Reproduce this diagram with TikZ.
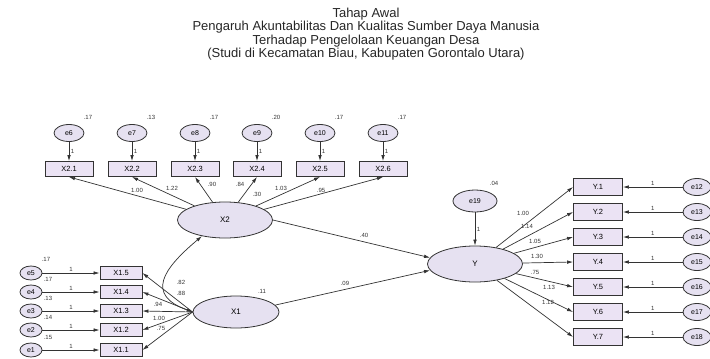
\documentclass[tikz,border=0pt]{standalone}
\usepackage{fontspec}
\setmainfont{Liberation Sans}
\usepackage{tikz}
\usetikzlibrary{arrows.meta, positioning, shapes.geometric}
\definecolor{latFill}{HTML}{E6E1F1}
\definecolor{obsFill}{HTML}{EBE3F4}
\definecolor{lineGray}{HTML}{333333}
\tikzset{
    box_obs/.style={
        rectangle, draw=lineGray, line width=0.9pt, fill=obsFill,
        minimum width=48pt, minimum height=15pt, inner sep=0pt,
        font=\fontsize{7.5}{8}\selectfont
    },
    box_obs_sm/.style={
        box_obs, minimum width=42pt, minimum height=13pt
    },
    ell_lat/.style={
        ellipse, draw=lineGray, line width=0.8pt, fill=latFill,
        minimum width=95pt, minimum height=36pt, inner sep=0pt,
        font=\fontsize{8}{9}\selectfont
    },
    ell_err/.style={
        ellipse, draw=lineGray, line width=0.8pt, fill=latFill,
        minimum width=30pt, minimum height=17pt, inner sep=0pt,
        font=\fontsize{7}{8}\selectfont
    },
    path_arrow/.style={
        -{Latex[length=6pt, width=3.6pt]}, draw=lineGray, line width=0.7pt
    },
    cov_arrow/.style={
        {Latex[length=6pt, width=3.6pt]}-{Latex[length=6pt, width=3.6pt]},
        draw=lineGray, line width=0.7pt
    },
    lbl/.style={
        font=\fontsize{6}{7}\selectfont, text=black!80, inner sep=0.5pt
    },
    ttl/.style={
        align=center, font=\fontsize{13}{13.5}\selectfont, text=black!85
    }
}

\begin{document}
\begin{tikzpicture}[x=1pt, y=-1pt, >=Latex]

    \useasboundingbox (0,0) rectangle (710,359);

    % Title block
    \node[ttl] (title) at (366,34) {
        Tahap Awal\\
        Pengaruh Akuntabilitas Dan Kualitas Sumber Daya Manusia\\
        Terhadap Pengelolaan Keuangan Desa\\
        (Studi di Kecamatan Biau, Kabupaten Gorontalo Utara)
    };

    % Latent variables
    \node[ell_lat] (X2) at (225,220) {X2};
    \node[ell_lat, minimum width=86pt, minimum height=32pt] (X1) at (236,312) {X1};
    \node[ell_lat] (Y) at (475,264) {Y};
    \node[ell_err, minimum width=44pt, minimum height=22pt] (e19) at (475,201) {e19};

    % Indicators of X2 (top row) with their errors
    \node[box_obs] (X21) at (69,169) {X2.1};
    \node[box_obs] (X22) at (132,169) {X2.2};
    \node[box_obs] (X23) at (195,169) {X2.3};
    \node[box_obs] (X24) at (257,169) {X2.4};
    \node[box_obs] (X25) at (320,169) {X2.5};
    \node[box_obs] (X26) at (383,169) {X2.6};
    \node[ell_err] (e6) at (69,133) {e6};
    \node[ell_err] (e7) at (132,133) {e7};
    \node[ell_err] (e8) at (195,133) {e8};
    \node[ell_err] (e9) at (257,133) {e9};
    \node[ell_err] (e10) at (320,133) {e10};
    \node[ell_err] (e11) at (383,133) {e11};

    % Indicators of X1 (left column) with their errors
    \node[box_obs_sm] (X15) at (121,273) {X1.5};
    \node[box_obs_sm] (X14) at (121,292) {X1.4};
    \node[box_obs_sm] (X13) at (121,311) {X1.3};
    \node[box_obs_sm] (X12) at (121,330) {X1.2};
    \node[box_obs_sm] (X11) at (121,350) {X1.1};
    \node[ell_err, minimum width=22pt, minimum height=14pt] (e5) at (31,273) {e5};
    \node[ell_err, minimum width=22pt, minimum height=14pt] (e4) at (31,292) {e4};
    \node[ell_err, minimum width=22pt, minimum height=14pt] (e3) at (31,311) {e3};
    \node[ell_err, minimum width=22pt, minimum height=14pt] (e2) at (31,330) {e2};
    \node[ell_err, minimum width=22pt, minimum height=14pt] (e1) at (31,350) {e1};

    % Indicators of Y (right column) with their errors
    \node[box_obs, minimum width=49pt, minimum height=17pt] (Y1) at (598,187) {Y.1};
    \node[box_obs, minimum width=49pt, minimum height=17pt] (Y2) at (598,212) {Y.2};
    \node[box_obs, minimum width=49pt, minimum height=17pt] (Y3) at (598,237) {Y.3};
    \node[box_obs, minimum width=49pt, minimum height=17pt] (Y4) at (598,262) {Y.4};
    \node[box_obs, minimum width=49pt, minimum height=17pt] (Y5) at (598,287) {Y.5};
    \node[box_obs, minimum width=49pt, minimum height=17pt] (Y6) at (598,312) {Y.6};
    \node[box_obs, minimum width=49pt, minimum height=17pt] (Y7) at (598,337) {Y.7};
    \node[ell_err, minimum width=28pt] (e12) at (697,187) {e12};
    \node[ell_err, minimum width=28pt] (e13) at (697,212) {e13};
    \node[ell_err, minimum width=28pt] (e14) at (697,237) {e14};
    \node[ell_err, minimum width=28pt] (e15) at (697,262) {e15};
    \node[ell_err, minimum width=28pt] (e16) at (697,287) {e16};
    \node[ell_err, minimum width=28pt] (e17) at (697,312) {e17};
    \node[ell_err, minimum width=28pt] (e18) at (697,337) {e18};

    % Error variances
    \node[lbl] (v6) at (88,117) {.17};
    \node[lbl] (v7) at (151,117) {.13};
    \node[lbl] (v8) at (214,117) {.17};
    \node[lbl] (v9) at (276,117) {.20};
    \node[lbl] (v10) at (339,117) {.17};
    \node[lbl] (v11) at (402,117) {.17};
    \node[lbl] (v5) at (46,259) {.17};
    \node[lbl] (v4) at (48,279) {.17};
    \node[lbl] (v3) at (48,298) {.13};
    \node[lbl] (v2) at (48,317) {.14};
    \node[lbl] (v1) at (48,337) {.15};
    \node[lbl] (v19) at (494,183) {.04};
    \node[lbl] (vX2) at (257,194) {.30};
    \node[lbl] (vX1) at (262,291) {.11};

    % Error -> indicator paths (fixed at 1)
    \draw[path_arrow] (e6) -- node[lbl, right=1pt] {1} (X21);
    \draw[path_arrow] (e7) -- node[lbl, right=1pt] {1} (X22);
    \draw[path_arrow] (e8) -- node[lbl, right=1pt] {1} (X23);
    \draw[path_arrow] (e9) -- node[lbl, right=1pt] {1} (X24);
    \draw[path_arrow] (e10) -- node[lbl, right=1pt] {1} (X25);
    \draw[path_arrow] (e11) -- node[lbl, right=1pt] {1} (X26);
    \draw[path_arrow] (e5) -- node[lbl, above=1pt] {1} (X15);
    \draw[path_arrow] (e4) -- node[lbl, above=1pt] {1} (X14);
    \draw[path_arrow] (e3) -- node[lbl, above=1pt] {1} (X13);
    \draw[path_arrow] (e2) -- node[lbl, above=1pt] {1} (X12);
    \draw[path_arrow] (e1) -- node[lbl, above=1pt] {1} (X11);
    \draw[path_arrow] (e12) -- node[lbl, above=1pt] {1} (Y1);
    \draw[path_arrow] (e13) -- node[lbl, above=1pt] {1} (Y2);
    \draw[path_arrow] (e14) -- node[lbl, above=1pt] {1} (Y3);
    \draw[path_arrow] (e15) -- node[lbl, above=1pt] {1} (Y4);
    \draw[path_arrow] (e16) -- node[lbl, above=1pt] {1} (Y5);
    \draw[path_arrow] (e17) -- node[lbl, above=1pt] {1} (Y6);
    \draw[path_arrow] (e18) -- node[lbl, above=1pt] {1} (Y7);
    \draw[path_arrow] (e19) -- node[lbl, right=1pt] {1} (Y);

    % Loadings of X2
    \draw[path_arrow] (X2) -- (X21.south);
    \draw[path_arrow] (X2) -- (X22.south);
    \draw[path_arrow] (X2) -- (X23.south);
    \draw[path_arrow] (X2) -- (X24.south);
    \draw[path_arrow] (X2) -- (X25.south);
    \draw[path_arrow] (X2) -- (X26.south);
    \node[lbl] (l21) at (137,190) {1.00};
    \node[lbl] (l22) at (172,188) {1.22};
    \node[lbl] (l23) at (212,184) {.90};
    \node[lbl] (l24) at (240,184) {.84};
    \node[lbl] (l25) at (281,188) {1.03};
    \node[lbl] (l26) at (321,190) {.95};

    % Loadings of X1
    \draw[path_arrow] (X1.west) -- (X15.east);
    \draw[path_arrow] (X1.west) -- (X14.east);
    \draw[path_arrow] (X1.west) -- (X13.east);
    \draw[path_arrow] (X1.west) -- (X12.east);
    \draw[path_arrow] (X1.west) -- (X11.east);
    \node[lbl] (l15) at (181,293) {.88};
    \node[lbl] (l14) at (158,304) {.94};
    \node[lbl] (l13) at (159,318) {1.00};
    \node[lbl] (l12) at (161,328) {.75};

    % Covariance X1 <-> X2
    \draw[cov_arrow] (X2.215) to[out=220, in=160, looseness=1.7] (X1.west);
    \node[lbl] (c12) at (181,282) {.82};

    % Loadings of Y
    \draw[path_arrow] (Y) -- (Y1.west);
    \draw[path_arrow] (Y) -- (Y2.west);
    \draw[path_arrow] (Y) -- (Y3.west);
    \draw[path_arrow] (Y) -- (Y4.west);
    \draw[path_arrow] (Y) -- (Y5.west);
    \draw[path_arrow] (Y) -- (Y6.west);
    \draw[path_arrow] (Y) -- (Y7.west);
    \node[lbl] (ly1) at (523,213) {1.00};
    \node[lbl] (ly2) at (527,226) {1.14};
    \node[lbl] (ly3) at (535,241) {1.05};
    \node[lbl] (ly4) at (537,256) {1.30};
    \node[lbl] (ly5) at (535,272) {.75};
    \node[lbl] (ly6) at (549,287) {1.13};
    \node[lbl] (ly7) at (548,302) {1.12};

    % Structural paths
    \draw[path_arrow] (X2.east) -- node[lbl, above=3pt, pos=0.58] {.40} (Y.172);
    \draw[path_arrow] (X1.10) -- node[lbl, above=3pt, pos=0.45] {.09} (Y.188);

\end{tikzpicture}
\end{document}
